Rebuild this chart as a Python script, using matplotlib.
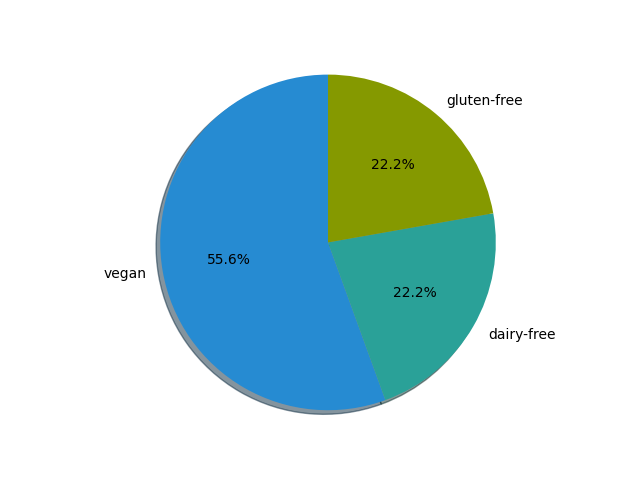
import matplotlib
matplotlib.use("Agg")
import matplotlib.pyplot as plt

labels = ["vegan", "dairy-free", "gluten-free"]
values = [5, 2, 2]
colors = ["#268bd2", "#2aa198", "#859900"]

fig, ax = plt.subplots(figsize=(6.4, 4.8), dpi=100)
ax.pie(values, labels=labels, colors=colors, autopct="%1.1f%%",
       shadow=True, startangle=90, radius=1.135)
ax.set_aspect("equal")
fig.savefig("out.png")
